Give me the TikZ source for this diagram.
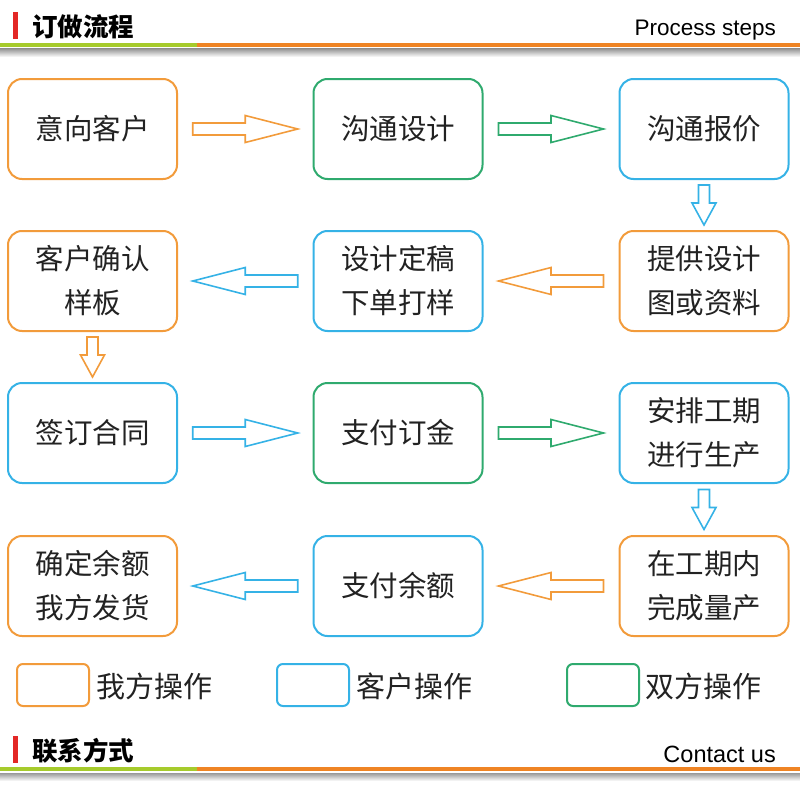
\documentclass[tikz,border=0pt]{standalone}
\usepackage{fontspec}
\setmainfont{Liberation Sans}
\newfontfamily\cjk{Noto Sans CJK SC}
\usetikzlibrary{calc}
\definecolor{cor}{HTML}{F29B3B}
\definecolor{cgr}{HTML}{2FAA6E}
\definecolor{cbl}{HTML}{35B2E6}
\definecolor{lineor}{HTML}{EF8424}
\definecolor{linegr}{HTML}{A6CB2C}
\definecolor{barred}{HTML}{E32826}
\definecolor{txt}{HTML}{222222}
\begin{document}
\begin{tikzpicture}[x=1pt,y=-1pt,
  box/.style={draw=#1, line width=2pt, rounded corners=14pt, minimum width=169pt,
    minimum height=100pt, inner sep=0pt, align=center, text=txt,
    font=\cjk\fontsize{28.5}{44}\selectfont},
  legbox/.style={draw=#1, line width=2pt, rounded corners=6pt, minimum width=72pt,
    minimum height=42pt, inner sep=0pt},
  legtext/.style={anchor=west, inner sep=0pt, text=txt, font=\cjk\fontsize{29}{29}\selectfont},
  htitle/.style={anchor=west, inner sep=0pt, text=black, font=\cjk\bfseries\fontsize{25.5}{25.5}\selectfont},
  hsub/.style={anchor=base east, inner sep=0pt, text=black},
  rarrow/.pic={\draw[line width=1.6pt, line join=miter, pic actions]
    (-52.5,-6) -- (0,-6) -- (0,-13.5) -- (52.5,0) -- (0,13.5) -- (0,6) -- (-52.5,6) -- cycle;},
  darrow/.pic={\draw[line width=1.6pt, line join=miter, pic actions]
    (-5.5,-20) -- (-5.5,-2) -- (-12,-2) -- (0,20) -- (12,-2) -- (5.5,-2) -- (5.5,-20) -- cycle;}
]
\useasboundingbox (0,0) rectangle (800,800);

% ---- top header ----
\fill[barred] (13,12) rectangle (18,39);
\node[htitle] (title) at (32,26.5) {订做流程};
\node[hsub, font=\fontsize{22.5}{22.5}\selectfont] (sub) at (776,36) {Process steps};
\fill[linegr] (0,43) rectangle (197,47);
\fill[lineor] (197,43) rectangle (800,47);
\shade[top color=black!40, bottom color=white] (0,49) rectangle (800,57);

% ---- boxes ----
\node[box=cor] (b11) at (92.5,129) {意向客户};
\node[box=cgr] (b12) at (398,129) {沟通设计};
\node[box=cbl] (b13) at (704,129) {沟通报价};
\node[box=cor] (b21) at (92.5,281) {客户确认\\样板};
\node[box=cbl] (b22) at (398,281) {设计定稿\\下单打样};
\node[box=cor] (b23) at (704,281) {提供设计\\图或资料};
\node[box=cbl] (b31) at (92.5,433) {签订合同};
\node[box=cgr] (b32) at (398,433) {支付订金};
\node[box=cbl] (b33) at (704,433) {安排工期\\进行生产};
\node[box=cor] (b41) at (92.5,586) {确定余额\\我方发货};
\node[box=cbl] (b42) at (398,586) {支付余额};
\node[box=cor] (b43) at (704,586) {在工期内\\完成量产};

% ---- arrows ----
\pic[draw=cor] at ($(b11.east)!0.5!(b12.west)$) {rarrow};
\pic[draw=cgr] at ($(b12.east)!0.5!(b13.west)$) {rarrow};
\pic[draw=cbl] at ($(b13.south)!0.5!(b23.north)$) {darrow};
\pic[draw=cor, xscale=-1] at ($(b23.west)!0.5!(b22.east)$) {rarrow};
\pic[draw=cbl, xscale=-1] at ($(b22.west)!0.5!(b21.east)$) {rarrow};
\pic[draw=cor] at ($(b21.south)!0.5!(b31.north)$) {darrow};
\pic[draw=cbl] at ($(b31.east)!0.5!(b32.west)$) {rarrow};
\pic[draw=cgr] at ($(b32.east)!0.5!(b33.west)$) {rarrow};
\pic[draw=cbl] at ($(b33.south)!0.5!(b43.north)$) {darrow};
\pic[draw=cor, xscale=-1] at ($(b43.west)!0.5!(b42.east)$) {rarrow};
\pic[draw=cbl, xscale=-1] at ($(b42.west)!0.5!(b41.east)$) {rarrow};

% ---- legend ----
\node[legbox=cor] (l1) at (53,685) {};
\node[legtext] (l1t) at (96,686) {我方操作};
\node[legbox=cbl] (l2) at (313,685) {};
\node[legtext] (l2t) at (356,686) {客户操作};
\node[legbox=cgr] (l3) at (603,685) {};
\node[legtext] (l3t) at (645,686) {双方操作};

% ---- bottom header ----
\fill[barred] (13,736) rectangle (18,763);
\node[htitle] (title2) at (32,750.5) {联系方式};
\node[hsub, font=\fontsize{23.5}{23.5}\selectfont] (sub2) at (776,762) {Contact us};
\fill[linegr] (0,767) rectangle (197,771);
\fill[lineor] (197,767) rectangle (800,771);
\shade[top color=black!40, bottom color=white] (0,773) rectangle (800,781);
\end{tikzpicture}
\end{document}
